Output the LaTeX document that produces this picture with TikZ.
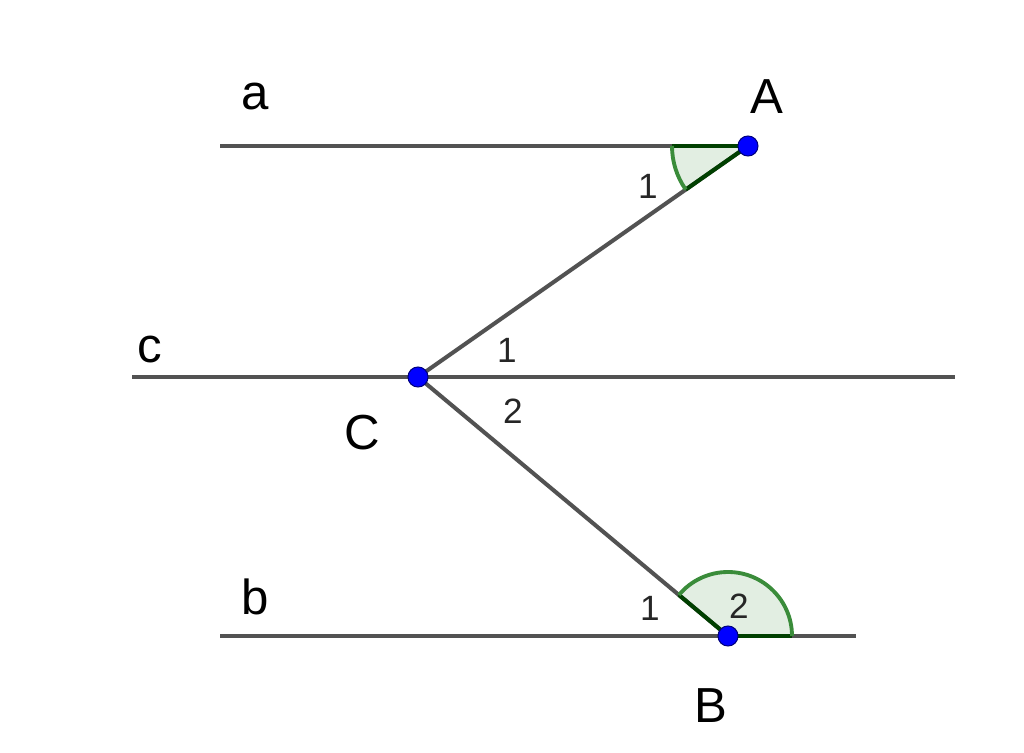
\documentclass[tikz,border=0pt]{standalone}
\usepackage{fontspec}
\setmainfont{Liberation Sans}
\definecolor{arcgreen}{RGB}{58,140,58}
\definecolor{sectorfill}{RGB}{226,238,226}
\begin{document}
\begin{tikzpicture}[
  line/.style={draw=black!68, line width=1.15pt},
  pt/.style={circle, fill=blue, draw=blue!50!black, line width=0.3pt, inner sep=0pt, minimum size=0.2cm},
  big/.style={font=\fontsize{14}{16}\selectfont, inner sep=0pt},
  small/.style={font=\fontsize{10}{12}\selectfont, inner sep=0pt, text=black!85},
  sector/.style={fill=sectorfill},
  arcline/.style={draw=arcgreen, line width=1.1pt},
  radline/.style={draw=green!25!black, line width=1.15pt}
]
\useasboundingbox (0,0) rectangle (10.24,7.53);
% points
\coordinate (A) at (7.48,6.07);
\coordinate (C) at (4.18,3.76);
\coordinate (B) at (7.28,1.17);
\coordinate (aL) at (2.20,6.07);
\coordinate (cL) at (1.32,3.76);
\coordinate (cR) at (9.55,3.76);
\coordinate (bL) at (2.20,1.17);
\coordinate (bR) at (8.56,1.17);
% angle sectors
\fill[sector] (A) -- ++(180:0.76) arc[start angle=180, end angle=215, radius=0.76] -- cycle;
\fill[sector] (B) -- ++(0:0.64) arc[start angle=0, end angle=140.1, radius=0.64] -- cycle;
% lines
\draw[line] (aL) -- (A);
\draw[line] (cL) -- (cR);
\draw[line] (bL) -- (bR);
\draw[line] (A) -- (C);
\draw[line] (C) -- (B);
% angle strokes
\draw[radline] (A) -- ++(180:0.76);
\draw[radline] (A) -- ++(215:0.76);
\draw[arcline] (A) ++(180:0.76) arc[start angle=180, end angle=215, radius=0.76];
\draw[radline] (B) -- ++(0:0.64);
\draw[radline] (B) -- ++(140.1:0.64);
\draw[arcline] (B) ++(0:0.64) arc[start angle=0, end angle=140.1, radius=0.64];
% point markers
\node[pt] (pA) at (A) {};
\node[pt] (pC) at (C) {};
\node[pt] (pB) at (B) {};
% labels
\node[big] (la) at (2.55,6.56) {a};
\node[big] (lA) at (7.67,6.56) {A};
\node[big] (lc) at (1.50,4.03) {c};
\node[big] (lC) at (3.62,3.20) {C};
\node[big] (lb) at (2.55,1.56) {b};
\node[big] (lB) at (7.11,0.47) {B};
\node[small] (n1A) at (6.48,5.67) {1};
\node[small] (n1C) at (5.07,4.03) {1};
\node[small] (n2C) at (5.13,3.42) {2};
\node[small] (n1B) at (6.50,1.45) {1};
\node[small] (n2B) at (7.39,1.47) {2};
\end{tikzpicture}
\end{document}
